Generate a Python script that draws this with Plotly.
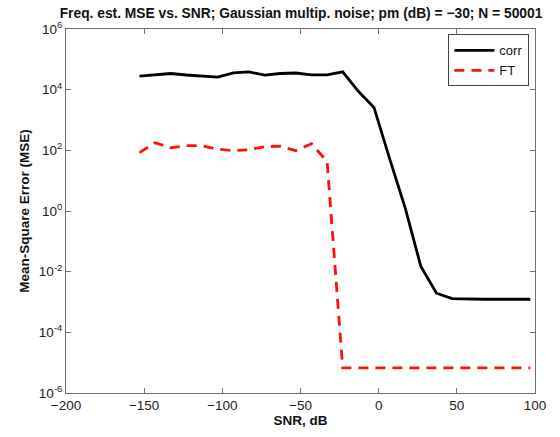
import plotly.graph_objects as go

# SNR grid (dB)
snr = [-153, -143, -133, -123, -113, -103, -93, -83, -73, -63, -53, -43, -33,
       -23, -13, -3, 7, 17, 27, 37, 47, 57, 67, 77, 87, 97]

mse_corr = [27800, 30500, 34100, 30500, 28800, 25800, 35900, 38700, 30000, 34100,
            35400, 30900, 30900, 38700, 8830, 2600, 53.5, 1.25, 0.0148, 0.00195,
            0.0013, 0.00123, 0.00123, 0.00123, 0.00123, 0.00123]

mse_ft = [84, 178, 122, 142, 142, 109, 97.5, 105, 132, 137, 97.5, 165, 43,
          6.7e-6, 6.7e-6, 6.7e-6, 6.7e-6, 6.7e-6, 6.7e-6, 6.7e-6, 6.7e-6,
          6.7e-6, 6.7e-6, 6.7e-6, 6.7e-6, 6.7e-6]

ytick_vals = [1e-6, 1e-4, 1e-2, 1e0, 1e2, 1e4, 1e6]
ytick_text = ["10<sup>-6</sup>", "10<sup>-4</sup>", "10<sup>-2</sup>", "10<sup>0</sup>",
              "10<sup>2</sup>", "10<sup>4</sup>", "10<sup>6</sup>"]

title_text = "Freq. est. MSE vs. SNR; Gaussian multip. noise; pm (dB) = \u221230; N = 50001"

FONT = "Liberation Sans, Arial, Helvetica, sans-serif"
AXC = "#6e6e6e"

fig = go.Figure()
fig.add_trace(go.Scatter(x=snr, y=mse_corr, mode="lines", name="corr",
                         line=dict(color="black", width=2.8)))
fig.add_trace(go.Scatter(x=snr, y=mse_ft, mode="lines", name="FT",
                         line=dict(color="#ff1010", width=2.8, dash="10px,7px")))

fig.update_layout(
    width=560, height=437,
    margin=dict(l=66, r=25, t=29, b=40),
    paper_bgcolor="white", plot_bgcolor="white",
    font=dict(family=FONT, size=13, color="#222"),
    title=dict(text=title_text, font=dict(family=FONT, size=13.8, color="#111", weight="bold"),
               x=301 / 560, xanchor="center", xref="container",
               y=1 - 8 / 437, yanchor="top", yref="container"),
    showlegend=True,
    legend=dict(x=0.988, y=0.985, xanchor="right", yanchor="top",
                bgcolor="white", bordercolor="#444", borderwidth=1,
                font=dict(family=FONT, size=13, color="#111"),
                tracegroupgap=0, itemwidth=40),
    xaxis=dict(range=[-200, 100], dtick=50, tick0=-200,
               showline=True, linecolor=AXC, linewidth=1, mirror="ticks",
               ticks="inside", ticklen=5, tickcolor=AXC, showgrid=False, zeroline=False,
               tickfont=dict(family=FONT, size=13.5, color="#222"),
               title=dict(text="<b>SNR, dB</b>", font=dict(family=FONT, size=13.5, color="#111"),
                          standoff=2)),
    yaxis=dict(type="log", range=[-6, 6], tickvals=ytick_vals, ticktext=ytick_text,
               showline=True, linecolor=AXC, linewidth=1, mirror="ticks",
               ticks="inside", ticklen=5, tickcolor=AXC, showgrid=False, zeroline=False,
               tickfont=dict(family=FONT, size=13.5, color="#222"),
               title=dict(text="<b>Mean-Square Error (MSE)</b>",
                          font=dict(family=FONT, size=13.5, color="#111"), standoff=6)),
)

fig.write_html("out.html")
